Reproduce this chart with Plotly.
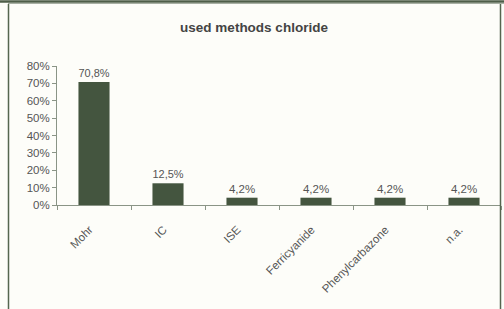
import plotly.graph_objects as go

categories = ["Mohr", "IC", "ISE", "Ferricyanide", "Phenylcarbazone", "n.a."]
values = [70.8, 12.5, 4.2, 4.2, 4.2, 4.2]
labels = ["70,8%", "12,5%", "4,2%", "4,2%", "4,2%", "4,2%"]
yticks = [0, 10, 20, 30, 40, 50, 60, 70, 80]
yticklabels = [f"{v}%" for v in yticks]

W, H = 504, 309
L, R, T, B = 57, 3, 66, 104
pw, ph = W - L - R, H - T - B

def px(x):
    return (x - L) / pw

def py(y):
    return (H - B - y) / ph

bar_color = "#44553f"
frame = "#55664f"
bg = "#fdfdf9"
FONT = "Liberation Sans, Arial"
TXT = "#555555"

fig = go.Figure(go.Bar(
    x=categories, y=values, text=labels, textposition="outside",
    textfont=dict(family=FONT, size=11.5, color=TXT),
    marker=dict(color=bar_color, line=dict(width=0)),
    width=0.42, cliponaxis=False,
))

fig.update_layout(
    width=W, height=H,
    margin=dict(l=L, r=R, t=T, b=B, autoexpand=False),
    paper_bgcolor=bg, plot_bgcolor=bg,
    showlegend=False,
    title=dict(text="<b>used methods chloride</b>", x=(8 + 500) / 2 / W, xanchor="center",
               y=1 - 27 / H, yanchor="middle",
               font=dict(family=FONT, size=13.5, color="#444444")),
    xaxis=dict(
        automargin=False,
        showline=True, linecolor="#8a9486", linewidth=1,
        ticks="outside", ticklen=4, tickcolor="#8a9486",
        tickson="boundaries",
        tickvals=categories,
        ticktext=[c + "\u00a0\u00a0" for c in categories],
        tickangle=-45,
        ticklabelstandoff=8,
        tickfont=dict(family=FONT, size=11.5, color=TXT),
        showgrid=False,
    ),
    yaxis=dict(
        automargin=False,
        range=[0, 80], tickvals=yticks, ticktext=yticklabels,
        showline=True, linecolor="#8a9486", linewidth=1,
        ticks="outside", ticklen=4, tickcolor="#8a9486",
        tickfont=dict(family=FONT, size=11.5, color=TXT),
        showgrid=False, zeroline=False,
    ),
    shapes=[
        dict(type="line", xref="paper", yref="paper", x0=px(0), x1=px(W), y0=py(1.5), y1=py(1.5),
             line=dict(color="#4e5e49", width=2.5)),
        dict(type="line", xref="paper", yref="paper", x0=px(8), x1=px(W), y0=py(3.5), y1=py(3.5),
             line=dict(color="#a8b0a4", width=1)),
        dict(type="line", xref="paper", yref="paper", x0=px(8.5), x1=px(8.5), y0=py(4), y1=py(H),
             line=dict(color=frame, width=1.5)),
        dict(type="line", xref="paper", yref="paper", x0=px(500.5), x1=px(500.5), y0=py(4), y1=py(H),
             line=dict(color=frame, width=1.5)),
    ],
)

fig.write_html("out.html", config={"displayModeBar": False},
               post_script="document.body.style.margin='0';document.body.style.overflow='hidden';")
